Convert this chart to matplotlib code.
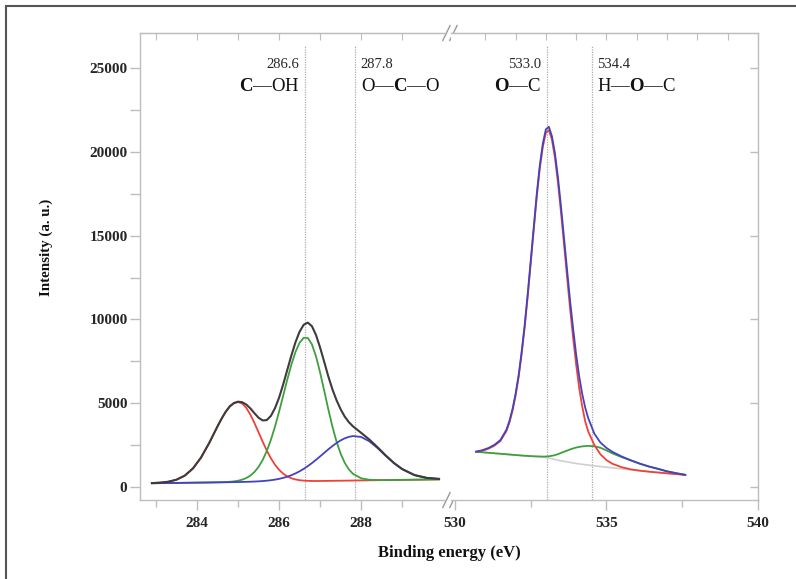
import matplotlib
matplotlib.use("Agg")
import matplotlib.pyplot as plt
from matplotlib.patches import Rectangle
from matplotlib.ticker import MultipleLocator

plt.rcParams['font.family'] = ['Liberation Serif', 'DejaVu Serif']
plt.rcParams['mathtext.fontset'] = 'custom'
plt.rcParams['mathtext.rm'] = 'Liberation Serif'
plt.rcParams['mathtext.bf'] = 'Liberation Serif:bold'

# C 1s region (eV, counts)
c1s_energy = [282.9, 283.1, 283.3, 283.5, 283.7, 283.9, 284.1, 284.3,
              284.4, 284.5, 284.6, 284.7, 284.8, 284.9, 285.0, 285.1, 285.2, 285.3,
              285.4, 285.5, 285.6, 285.7, 285.8, 285.9, 286.0, 286.1, 286.2, 286.3,
              286.4, 286.5, 286.6, 286.7, 286.8, 286.9, 287.0, 287.1, 287.2, 287.3,
              287.4, 287.5, 287.6, 287.7, 287.8,
              288.0, 288.2, 288.4, 288.6, 288.8, 289.0, 289.3, 289.6, 289.9]
c1s_envelope = [229, 255, 310, 432, 673, 1101, 1763, 2640,
                3130, 3621, 4085, 4495, 4822, 5010, 5090, 5060, 4920, 4690,
                4400, 4130, 3970, 3990, 4240, 4700, 5330, 6120, 6990, 7850,
                8640, 9270, 9680, 9810, 9600, 9070, 8320, 7470, 6600, 5830,
                5180, 4640, 4200, 3870, 3620,
                3230, 2830, 2370, 1880, 1430, 1070, 710, 540, 480]
c1s_cc = [229, 255, 310, 432, 673, 1101, 1763, 2640,
          3129, 3618, 4079, 4482, 4798, 4998, 5069, 4982, 4722, 4319,
          3816, 3261, 2701, 2175, 1712, 1326, 1021, 793, 629, 517,
          446, 402, 377, 363, 358, 352, 355, 359, 362, 365,
          369, 372, 375, 378, 382,
          388, 395, 402, 408, 415, 421, 431, 441, 451]
c1s_coh = [220, 227, 233, 240, 246, 253, 260, 266,
           271, 276, 282, 292, 307, 331, 370, 433, 530, 677,
           893, 1196, 1608, 2142, 2807, 3598, 4490, 5446, 6407, 7303,
           8062, 8613, 8905, 8895, 8513, 7795, 6833, 5743, 4635, 3603,
           2712, 1990, 1442, 1050, 786,
           515, 428, 409, 408, 415, 421, 431, 441, 451]
c1s_oco = [220, 227, 233, 240, 246, 253, 260, 266,
           270, 273, 276, 279, 284, 288, 292, 298, 304, 312,
           322, 334, 351, 372, 400, 436, 482, 541, 613, 701,
           809, 934, 1079, 1242, 1424, 1619, 1824, 2035, 2242, 2439,
           2621, 2777, 2902, 2989, 3037,
           2984, 2725, 2320, 1856, 1418, 1058, 705, 538, 479]

# O 1s region
o1s_energy = [530.7, 530.9, 531.1, 531.3, 531.5, 531.7,
              531.8, 531.9, 532.0, 532.1, 532.2, 532.3, 532.4, 532.5, 532.6,
              532.7, 532.8, 532.9, 533.0, 533.1, 533.2, 533.3, 533.4, 533.5,
              533.6, 533.7, 533.8, 533.9, 534.0, 534.1, 534.2, 534.3, 534.4,
              534.6, 534.8, 535.0, 535.2, 535.5, 535.8, 536.1, 536.4, 536.7,
              537.0, 537.3, 537.6]
o1s_envelope = [2110, 2190, 2320, 2510, 2800, 3420,
                3950, 4650, 5550, 6650, 8050, 9650, 11500, 13500, 15500,
                17500, 19200, 20500, 21350, 21500, 20940, 19920, 18470, 16730,
                14860, 12970, 11110, 9450, 7900, 6600, 5550, 4720, 4100,
                3180, 2650, 2330, 2090, 1820, 1590, 1390, 1220, 1080,
                930, 820, 720]
o1s_oc = [2090, 2160, 2280, 2460, 2740, 3340,
          3860, 4550, 5440, 6530, 7920, 9510, 11350, 13340, 15330,
          17320, 19010, 20300, 21150, 21300, 20740, 19650, 18150, 16380,
          14470, 12540, 10630, 8900, 7300, 5900, 4800, 3900, 3300,
          2500, 1950, 1600, 1380, 1180, 1050, 970, 910, 860,
          810, 765, 720]
o1s_hoc = [2100, 2070, 2040, 2010, 1980, 1950,
           1935, 1920, 1905, 1890, 1875, 1860, 1850, 1840, 1830,
           1820, 1815, 1810, 1815, 1830, 1860, 1900, 1960, 2030,
           2100, 2170, 2240, 2300, 2350, 2390, 2420, 2440, 2450,
           2430, 2340, 2180, 2000, 1780, 1590, 1390, 1220, 1080,
           930, 820, 720]
o1s_bg_energy = [530.7, 531.5, 532.3, 532.9, 533.0, 533.5, 534.0, 534.5,
                 535.0, 535.5, 536.0, 536.5, 537.0, 537.6]
o1s_background = [2100, 1980, 1860, 1800, 1760, 1560, 1400, 1280,
                  1180, 1080, 990, 900, 820, 720]

c1s_lines = [286.63, 287.85]
o1s_lines = [533.03, 534.52]
c1s_numbers = ['286.6', '287.8']
o1s_numbers = ['533.0', '534.4']
c1s_groups = [r'$\mathbf{C}$—OH', r'O—$\mathbf{C}$—O']
o1s_groups = [r'$\mathbf{O}$—C', r'H—$\mathbf{O}$—C']

SPINE = '#bdbdbd'
TXT = '#262626'
RED = '#ee4238'
GREEN = '#3f9f3f'
BLUE = '#4343c0'
BLACK = '#3c3c3c'

fig = plt.figure(figsize=(7.96, 5.79), dpi=100)
W, H = 796, 579
ax1 = fig.add_axes([140 / W, 79 / H, 304 / W, 467 / H])
ax2 = fig.add_axes([451 / W, 79 / H, 307 / W, 467 / H], sharey=ax1)

ax1.plot(c1s_energy, c1s_cc, color=RED, lw=1.3)
ax1.plot(c1s_energy, c1s_coh, color=GREEN, lw=1.3)
ax1.plot(c1s_energy, c1s_oco, color=BLUE, lw=1.3)
ax1.plot(c1s_energy, c1s_envelope, color=BLACK, lw=1.5)

ax2.plot(o1s_bg_energy, o1s_background, color='#cfcfcf', lw=1.2)
ax2.plot(o1s_energy, o1s_hoc, color=GREEN, lw=1.3)
ax2.plot(o1s_energy, o1s_oc, color=RED, lw=1.3)
ax2.plot(o1s_energy, o1s_envelope, color=BLUE, lw=1.3)

ax1.set_xlim(282.61, 290.02)
ax2.set_xlim(529.87, 540.0)
ax1.set_ylim(-780, 27100)

for ax, lines, nums, groups in [(ax1, c1s_lines, c1s_numbers, c1s_groups),
                                (ax2, o1s_lines, o1s_numbers, o1s_groups)]:
    for i, x in enumerate(lines):
        ax.axvline(x, ymax=0.974, color='#acacac', lw=0.9, ls=(0, (1, 1)), zorder=0)
        side = -1 if i == 0 else 1
        ha = 'right' if i == 0 else 'left'
        ax.annotate(nums[i], (x, 25000), xytext=(side * 4, 0), textcoords='offset points',
                    ha=ha, va='baseline', fontsize=10.5, color=TXT)
        ax.annotate(groups[i], (x, 23650), xytext=(side * 4, 0), textcoords='offset points',
                    ha=ha, va='baseline', fontsize=13.5, color='#111111')

for ax in (ax1, ax2):
    for s in ax.spines.values():
        s.set_color(SPINE)
        s.set_linewidth(1.0)
    ax.tick_params(axis='both', which='both', color=SPINE, labelcolor=TXT,
                   labelsize=11, width=1.0)

ax1.spines['right'].set_visible(False)
ax2.spines['left'].set_visible(False)

ax1.set_xticks([284, 286, 288])
ax1.set_xticks([283, 285, 287, 289], minor=True)
ax2.set_xticks([530, 535, 540])
ax2.set_xticks([532.5, 537.5], minor=True)
ax1.yaxis.set_major_locator(MultipleLocator(5000))
ax1.yaxis.set_minor_locator(MultipleLocator(2500))

ax1.tick_params(axis='x', which='major', direction='out', length=7, pad=5)
ax1.tick_params(axis='x', which='minor', direction='out', length=5)
ax2.tick_params(axis='x', which='major', direction='out', length=7, pad=5)
ax2.tick_params(axis='x', which='minor', direction='out', length=5)
ax1.tick_params(axis='y', which='both', direction='out', length=7, left=True, right=False, pad=2)
ax2.tick_params(axis='y', which='major', direction='in', length=6, left=False, right=True,
                labelleft=False)
ax2.tick_params(axis='y', which='minor', left=False, right=False)

for lab in ax1.get_xticklabels() + ax1.get_yticklabels() + ax2.get_xticklabels():
    lab.set_fontweight('bold')

# inward ticks along the top edge, one per eV
for ax, ticks in [(ax1, range(283, 290)), (ax2, range(531, 541))]:
    top = ax.secondary_xaxis('top')
    top.set_xticks(list(ticks))
    top.tick_params(axis='x', direction='in', length=5, color=SPINE, labeltop=False)
    top.spines['top'].set_color(SPINE)

# axis break marks
for y0 in (0.0, 1.0):
    for dx in (0.0, 7 / 304):
        ax1.plot([1.0 - 0.004 + dx, 1.0 + 0.02 + dx], [y0 - 0.016, y0 + 0.016],
                 transform=ax1.transAxes, color='#9a9a9a', lw=1.0, clip_on=False)

fig.text(449 / W, 1 - 553 / H, 'Binding energy (eV)', ha='center', va='center',
         fontsize=12, fontweight='bold', color='#111111')
fig.text(46 / W, 1 - 247 / H, 'Intensity (a. u.)', ha='center', va='center',
         rotation=90, fontsize=10.8, fontweight='bold', color='#111111')

fig.patches.append(Rectangle((6 / W, -0.05), 1.1, 1.05 - 6 / H, transform=fig.transFigure,
                             fill=False, ec='#555555', lw=1.5))

fig.savefig('out.png', dpi=100)
